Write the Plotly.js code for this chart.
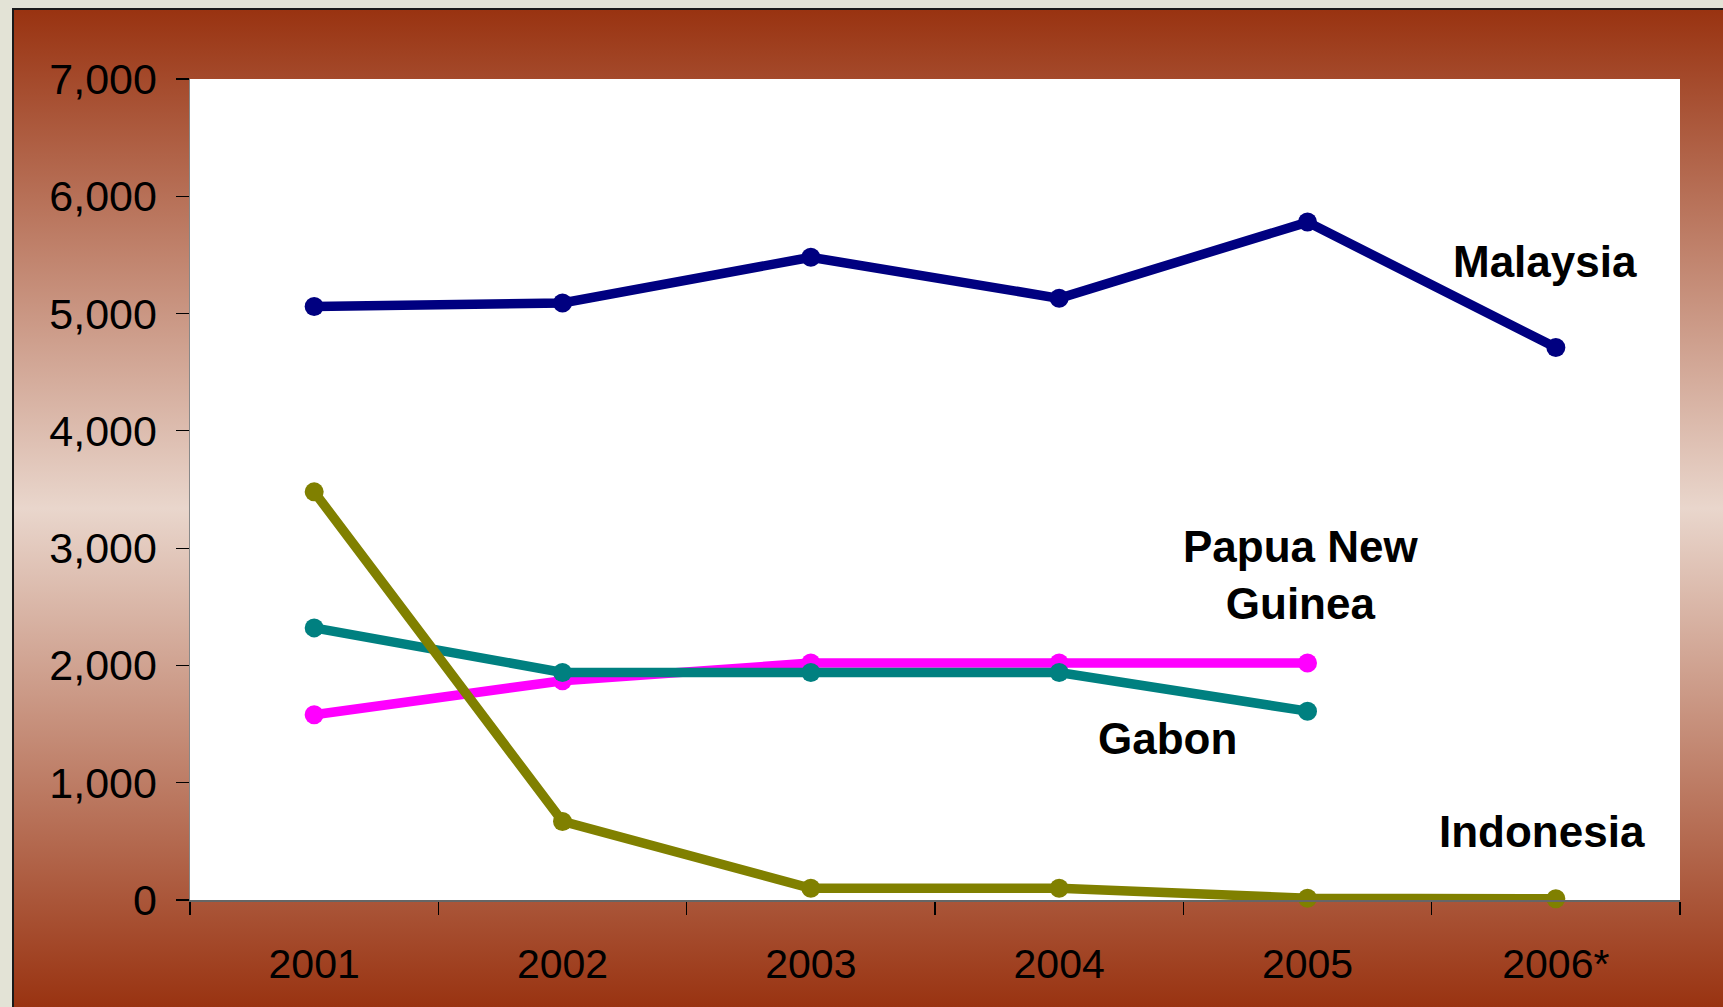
<!DOCTYPE html>
<html>
<head>
<meta charset="utf-8">
<script src="https://cdn.plot.ly/plotly-3.0.1.min.js"></script>
<style>
  html, body { margin: 0; padding: 0; width: 1723px; height: 1007px; overflow: hidden; background: #E3E3D6; }
  #frame {
    position: absolute; left: 12px; top: 8px; width: 1711px; height: 999px;
    box-sizing: border-box; border-left: 2px solid #1a1a1a; border-top: 2px solid #1a1a1a;
    background: linear-gradient(to bottom, #993311 0%, #E9D6CC 50%, #993311 100%);
  }
  #chart { position: absolute; left: 0; top: 0; width: 1723px; height: 1007px; }
</style>
</head>
<body>
<div id="frame"></div>
<div id="chart"></div>
<script>
const years = ["2001", "2002", "2003", "2004", "2005", "2006*"];
const malaysia  = [5060, 5090, 5480, 5130, 5780, 4710];
const indonesia = [3480, 670, 100, 100, 15, 10];
const gabon     = [2320, 1940, 1940, 1940, 1610];
const png       = [1580, 1870, 2020, 2020, 2020];
const yTicks = [0, 1000, 2000, 3000, 4000, 5000, 6000, 7000];

function series(name, y, color) {
  return {
    type: 'scatter', mode: 'lines+markers', name: name,
    x: years.slice(0, y.length), y: y,
    line: { color: color, width: 9.5 },
    marker: { color: color, size: 19 },
    cliponaxis: false
  };
}

const data = [
  series('Papua New Guinea', png, '#FF00FF'),
  series('Gabon', gabon, '#008080'),
  series('Indonesia', indonesia, '#808000'),
  series('Malaysia', malaysia, '#000080')
];

const annFont = { family: 'Liberation Sans, Arial, sans-serif', size: 44, color: '#000000', weight: 'bold' };
const layout = {
  width: 1723, height: 1007,
  margin: { l: 190, r: 43, t: 79, b: 107 },
  paper_bgcolor: 'rgba(0,0,0,0)',
  plot_bgcolor: '#FFFFFF',
  showlegend: false,
  xaxis: {
    type: 'category', categoryorder: 'array', categoryarray: years,
    range: [-0.5, 5.5], tickson: 'boundaries', ticks: 'outside', ticklen: 13, tickcolor: '#000000', tickwidth: 1.2,
    showline: true, linecolor: '#666666', linewidth: 1.5, showgrid: false, zeroline: false,
    tickfont: { family: 'Liberation Sans, Arial, sans-serif', size: 41, color: '#000000' },
    ticklabelstandoff: 27, fixedrange: true
  },
  yaxis: {
    range: [0, 7000], tickvals: yTicks, tickformat: ',d', ticks: 'outside', ticklen: 13, tickcolor: '#000000', tickwidth: 1.2,
    showline: true, linecolor: '#888888', linewidth: 1.5, showgrid: false, zeroline: false,
    tickfont: { family: 'Liberation Sans, Arial, sans-serif', size: 43, color: '#000000' },
    ticklabelstandoff: 10, fixedrange: true
  },
  annotations: [
    { x: 4.956, y: 5444, xref: 'x', yref: 'y', text: 'Malaysia', showarrow: false, font: annFont },
    { x: 3.974, y: 2771, xref: 'x', yref: 'y', text: 'Papua New<br>Guinea', showarrow: false, font: annFont },
    { x: 3.438, y: 1377, xref: 'x', yref: 'y', text: 'Gabon', showarrow: false, font: annFont },
    { x: 4.944, y: 580, xref: 'x', yref: 'y', text: 'Indonesia', showarrow: false, font: annFont }
  ]
};

Plotly.newPlot('chart', data, layout, { displayModeBar: false, staticPlot: true });
</script>
</body>
</html>
